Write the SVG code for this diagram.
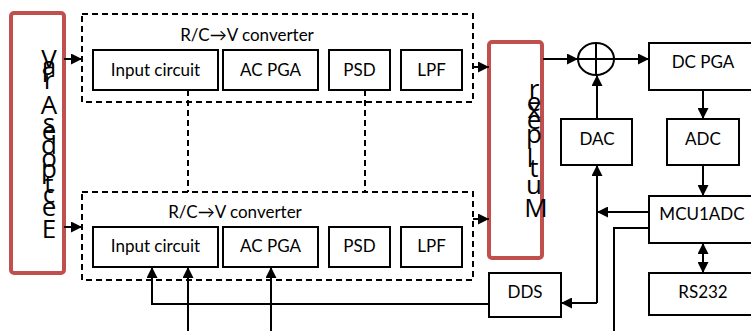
<svg xmlns="http://www.w3.org/2000/svg" width="751" height="331" viewBox="0 0 751 331">
<style>
.box{fill:#fff;stroke:#000;stroke-width:2}
.dash{fill:none;stroke:#000;stroke-width:2;stroke-dasharray:6 4}
.red{fill:#fff;stroke:#C0504D;stroke-width:4}
.lbl{font-family:Lato,"Open Sans",sans-serif;font-size:17px;fill:#000;text-anchor:middle}
.vt{font-family:"Open Sans","Noto Sans",sans-serif;font-size:26px;fill:#000;text-anchor:middle}
.ln{fill:none;stroke:#000;stroke-width:2}
.arr{marker-end:url(#ah)}
</style>
<defs>
<marker id="ah" viewBox="0 0 10 10" refX="10" refY="5" markerWidth="11" markerHeight="11" markerUnits="userSpaceOnUse" orient="auto-start-reverse">
<path d="M0,0 L10,5 L0,10 z" fill="#000"/>
</marker>
</defs>
<rect width="751" height="331" fill="#fff"/>

<g id="source">
<rect class="red" x="11" y="13" width="53" height="260" rx="3"/>
<text class="vt"><tspan x="49" y="68">V</tspan><tspan x="49" y="75">a</tspan><tspan x="45" y="82">l</tspan><tspan x="49" y="89">r</tspan><tspan x="49" y="114">A</tspan><tspan x="49" y="132">s</tspan><tspan x="49" y="140">e</tspan><tspan x="49" y="154">d</tspan><tspan x="49" y="167">o</tspan><tspan x="49" y="178">p</tspan><tspan x="49" y="193">t</tspan><tspan x="49" y="203">c</tspan><tspan x="49" y="216">e</tspan><tspan x="49" y="238">E</tspan></text>
</g>

<g id="conv1">
<rect class="dash" x="82" y="14" width="391" height="88"/>
<text class="lbl" x="247" y="41">R/C→V converter</text>
</g>
<g id="ic1"><rect class="box" x="93" y="50" width="125" height="40"/><text class="lbl" x="155.5" y="76">Input circuit</text></g>
<g id="acpga1"><rect class="box" x="223" y="50" width="95" height="40"/><text class="lbl" x="270.5" y="76">AC PGA</text></g>
<g id="psd1"><rect class="box" x="329" y="50" width="61" height="40"/><text class="lbl" x="359.5" y="76">PSD</text></g>
<g id="lpf1"><rect class="box" x="401" y="50" width="61" height="40"/><text class="lbl" x="431.5" y="76">LPF</text></g>

<g id="conv2">
<rect class="dash" x="82" y="192" width="391" height="88"/>
<text class="lbl" x="235" y="218">R/C→V converter</text>
</g>
<g id="ic2"><rect class="box" x="93" y="227" width="125" height="40"/><text class="lbl" x="155.5" y="252">Input circuit</text></g>
<g id="acpga2"><rect class="box" x="223" y="227" width="95" height="40"/><text class="lbl" x="270.5" y="252">AC PGA</text></g>
<g id="psd2"><rect class="box" x="329" y="227" width="61" height="40"/><text class="lbl" x="359.5" y="252">PSD</text></g>
<g id="lpf2"><rect class="box" x="401" y="227" width="61" height="40"/><text class="lbl" x="431.5" y="252">LPF</text></g>

<g id="mux">
<rect class="red" x="489" y="42" width="53" height="216" rx="3"/>
<text class="vt"><tspan x="534" y="98">r</tspan><tspan x="534" y="111">e</tspan><tspan x="534" y="118">x</tspan><tspan x="534" y="129">e</tspan><tspan x="534" y="143">p</tspan><tspan x="530" y="167">l</tspan><tspan x="534" y="177">t</tspan><tspan x="534" y="194">u</tspan><tspan x="536" y="217">M</tspan></text>
</g>

<g id="sum">
<ellipse cx="596" cy="59" rx="18" ry="16" fill="#fff" stroke="#000" stroke-width="2"/>
<path class="ln" d="M578,59 H614 M596,43 V75"/>
</g>
<g id="dcpga"><rect class="box" x="649" y="43" width="110" height="47"/><text class="lbl" x="703" y="68">DC PGA</text></g>
<g id="dac"><rect class="box" x="561" y="119" width="71" height="46"/><text class="lbl" x="597" y="145">DAC</text></g>
<g id="adc"><rect class="box" x="667" y="119" width="72" height="46"/><text class="lbl" x="703" y="145">ADC</text></g>
<g id="mcu"><rect class="box" x="649" y="196" width="110" height="47"/><text class="lbl" x="702" y="220">MCU1ADC</text></g>
<g id="rs232"><rect class="box" x="649" y="273" width="110" height="42"/><text class="lbl" x="703" y="298">RS232</text></g>
<g id="dds"><rect class="box" x="489" y="273" width="72" height="44"/><text class="lbl" x="525" y="298">DDS</text></g>

<g id="connectors">
<path class="ln arr" d="M64,59 H82"/>
<path class="ln arr" d="M64,227 H82"/>
<path class="ln arr" d="M473,67 H489"/>
<path class="ln arr" d="M473,219 H489"/>
<path class="ln arr" d="M543,59 H578"/>
<path class="ln arr" d="M614,59 H649"/>
<path class="ln arr" d="M597,119 V75"/>
<path class="ln arr" d="M703,90 V119"/>
<path class="ln arr" d="M703,165 V196"/>
<path class="ln arr" d="M703,243 V273" marker-start="url(#ah)"/>
<path class="ln arr" d="M649,212 H597"/>
<path class="ln arr" d="M597,303 V165"/>
<path class="ln arr" d="M597,303 H561"/>
<path class="ln" d="M649,228 H614 V331"/>
<path class="ln arr" d="M489,304 H152 V267"/>
<path class="ln arr" d="M188,331 V267"/>
<path class="ln arr" d="M271,331 V267"/>
<path class="dash" d="M188,90 V192 M365,90 V192"/>
</g>
</svg>
